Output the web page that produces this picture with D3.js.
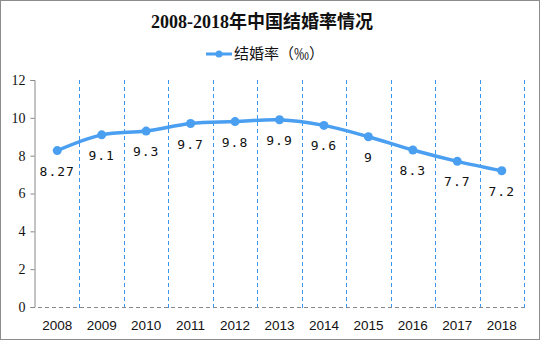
<!DOCTYPE html>
<html><head><meta charset="utf-8">
<script src="https://cdn.jsdelivr.net/npm/d3@7"></script>
<style>body{margin:0;background:#fff}svg{display:block}</style>
</head><body>
<svg id="c" width="540" height="340"></svg>
<script>
const years = ["2008","2009","2010","2011","2012","2013","2014","2015","2016","2017","2018"];
const rates = [8.27, 9.1, 9.3, 9.7, 9.8, 9.9, 9.6, 9, 8.3, 7.7, 7.2];
const rateLabels = ["8.27","9.1","9.3","9.7","9.8","9.9","9.6","9","8.3","7.7","7.2"];
const yTicks = [0, 2, 4, 6, 8, 10, 12];
const title = "2008-2018年中国结婚率情况";
const seriesName = "结婚率（‰）";

const svg = d3.select("#c");
const W = 540, H = 340;
const m = {l: 35, r: 16, t: 80, b: 33};
const blue = "#4a9ff0";

svg.append("rect").attr("x",0.5).attr("y",0.5).attr("width",W-1).attr("height",H-1)
  .attr("fill","#fff").attr("stroke","#8c8c8c");

const x = d3.scaleBand().domain(years).range([m.l, W - m.r]).padding(0);
const y = d3.scaleLinear().domain([0, 12]).range([H - m.b, m.t]);

// title
svg.append("text").attr("x", 262).attr("y", 28).attr("text-anchor","middle")
  .attr("font-family","'Liberation Serif','Noto Sans CJK SC',serif").attr("font-weight","bold")
  .attr("font-size",18).attr("fill","#111").text(title);

// legend
const lg = svg.append("g");
lg.append("line").attr("x1",206).attr("x2",232).attr("y1",54).attr("y2",54).attr("stroke",blue).attr("stroke-width",3);
lg.append("circle").attr("cx",219).attr("cy",54).attr("r",3.5).attr("fill",blue);
lg.append("text").attr("x",234).attr("y",59).attr("font-family","'Noto Sans CJK SC',sans-serif")
  .attr("font-size",15).attr("fill","#111").text(seriesName);

// vertical dashed grid lines at band boundaries
const bounds = years.slice(1).map(d => x(d)).concat([x(years[years.length-1]) + x.bandwidth()]);
svg.append("g").selectAll("line").data(bounds).join("line")
  .attr("x1", d => Math.round(d)+0.5).attr("x2", d => Math.round(d)+0.5)
  .attr("y1", y(12)).attr("y2", y(0)+3)
  .attr("stroke","#3b96f0").attr("stroke-dasharray","4,3").attr("stroke-width",1);

// y axis
const ya = svg.append("g").attr("transform",`translate(${m.l - 0.5},0)`)
  .call(d3.axisLeft(y).tickValues(yTicks).tickSize(4).tickPadding(5).tickFormat(d3.format("d")));
ya.select(".domain").attr("stroke","#888");
ya.selectAll(".tick line").attr("stroke","#888");
ya.selectAll("text").attr("font-family","'Liberation Serif',serif").attr("font-size",14).attr("fill","#111");

// x baseline dashed
svg.append("line").attr("x1", m.l - 4).attr("x2", W - m.r).attr("y1", y(0)+0.5).attr("y2", y(0)+0.5)
  .attr("stroke","#888").attr("stroke-dasharray","4,3");

// x labels
svg.append("g").selectAll("text").data(years).join("text")
  .attr("x", d => x(d) + x.bandwidth()/2).attr("y", y(0) + 23)
  .attr("text-anchor","middle").attr("font-family","'Liberation Sans',sans-serif")
  .attr("font-size",13.5).attr("fill","#111").text(d => d);

// line
const pts = years.map((d,i) => [x(d) + x.bandwidth()/2, y(rates[i])]);
svg.append("path").attr("d", d3.line().curve(d3.curveCatmullRom.alpha(0.5))(pts))
  .attr("fill","none").attr("stroke",blue).attr("stroke-width",3.5);
svg.append("g").selectAll("circle").data(pts).join("circle")
  .attr("cx", d => d[0]).attr("cy", d => d[1]).attr("r",4.5).attr("fill",blue);

// data labels
svg.append("g").selectAll("text").data(pts).join("text")
  .attr("x", d => d[0]).attr("y", d => d[1] + 25)
  .attr("text-anchor","middle").attr("font-family","'DejaVu Sans Mono',monospace")
  .attr("font-size",13).attr("letter-spacing",1).attr("fill","#111")
  .text((d,i) => rateLabels[i]);
</script>
</body></html>
